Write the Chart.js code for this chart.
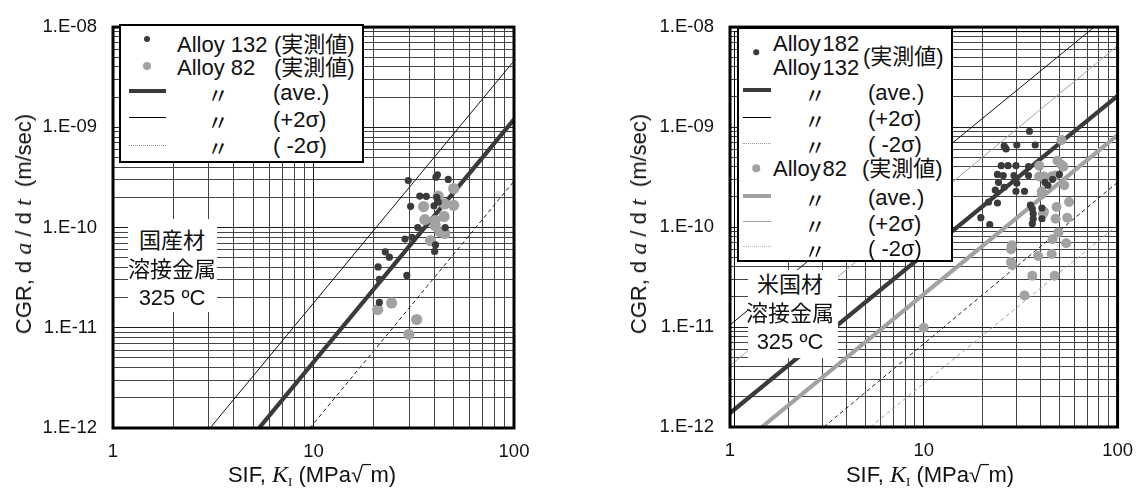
<!DOCTYPE html>
<html>
<head>
<meta charset="utf-8">
<script src="https://cdn.jsdelivr.net/npm/chart.js@4.4.1/dist/chart.umd.min.js"></script>
<style>
  html, body { margin: 0; padding: 0; background: #fff; }
  body { position: relative; width: 1146px; height: 491px; overflow: hidden;
         font-family: "Liberation Sans", Arial, "Noto Sans CJK JP", sans-serif; color: #111; }
  canvas { position: absolute; top: 0; }
  #cJP { left: 0; }
  #cUS { left: 573px; }
  .t { position: absolute; white-space: nowrap; line-height: 0; font-size: 22px; }
  .c { transform: translateX(-50%); }
  .box { position: absolute; background: #fff; border: 2.5px solid #000; box-sizing: border-box; }
  .bg { position: absolute; background: #fff; }
  .dot { position: absolute; border-radius: 50%; transform: translate(-50%, -50%); }
  .smp { position: absolute; }
  .ttl { position: absolute; white-space: nowrap; line-height: 1; }
  .ttl i { font-family: "Liberation Serif", "Times New Roman", serif; font-style: italic; }
  .ttl sub { font-family: "Liberation Serif", "Times New Roman", serif; font-size: 13px; vertical-align: -4px; }
  .yt { font-size: 22px; transform: translate(-50%, -50%) rotate(-90deg); }
  .yt i { font-size: 24px; }
  .xt { font-size: 22px; transform: translate(-50%, -50%); }
  .xt i { font-size: 24px; }
  .ditto { font-family: "Noto Sans CJK JP", sans-serif; }
</style>
</head>
<body>
<canvas id="cJP" width="573" height="491"></canvas>
<canvas id="cUS" width="573" height="491"></canvas>
<div id="overlay"></div>
<script>
// ---------- axes ----------
const xDecades = [1, 10, 100];
const xTickLabels = ['1', '10', '100'];
const yDecades = [1e-12, 1e-11, 1e-10, 1e-9, 1e-8];
const yTickLabels = ['1.E-12', '1.E-11', '1.E-10', '1.E-09', '1.E-08'];

// ---------- left panel: 国産材 溶接金属 325 ºC ----------
// Alloy 132 measured CGR (K in MPa√m, CGR in m/sec)
const jp132K   = [29.7, 40.8, 41.5, 47.0, 33.9, 36.5, 30.5, 41.2, 41.9, 39.9, 33.1,
                  28.6, 31.0, 45.4, 40.6, 40.2, 22.8, 23.9, 21.0, 21.3, 29.2, 21.3];
const jp132CGR = [2.94e-10, 3.18e-10, 3.36e-10, 3.02e-10, 2.06e-10, 2.05e-10, 1.63e-10, 2.0e-10, 1.79e-10, 1.65e-10, 1.0e-10,
                  7.68e-11, 7.98e-11, 1.0e-10, 6.71e-11, 5.78e-11, 5.73e-11, 5.06e-11, 4.05e-11, 3.04e-11, 3.33e-11, 1.79e-11];
// Alloy 82 measured CGR
const jp82K    = [50.0, 41.9, 35.4, 45.1, 50.0, 35.9, 40.4, 40.4, 44.8, 42.7, 45.2, 38.3, 24.5, 20.9, 32.7, 29.9];
const jp82CGR  = [2.45e-10, 2.06e-10, 1.62e-10, 1.72e-10, 1.67e-10, 1.2e-10, 1.17e-10, 1.05e-10, 1.29e-10, 9.08e-11,
                  8.73e-11, 7.41e-11, 1.77e-11, 1.52e-11, 1.21e-11, 8.6e-12];
// curves (ave., +2σ, -2σ), end points
const jpAveK = [5.35, 100],  jpAveCGR = [1e-12, 1.2e-9];
const jpHiK  = [3.05, 100],  jpHiCGR  = [1e-12, 4.6e-9];
const jpLoK  = [9.6, 100],   jpLoCGR  = [1e-12, 2.9e-10];

// ---------- right panel: 米国材 溶接金属 325 ºC ----------
// Alloy 182 / Alloy 132 measured CGR
const us132K   = [35.1, 26.0, 26.6, 30.2, 37.6, 25.1, 27.2, 29.9, 34.7, 24.0, 25.7, 29.2, 34.7, 24.3, 23.4, 26.0, 30.2,
                  29.9, 33.1, 42.2, 43.7, 46.2, 50.1, 21.6, 24.0, 35.5, 36.3, 36.7, 36.7, 36.3, 40.7, 40.7, 19.7, 21.9];
const us132CGR = [9.08e-10, 6.47e-10, 6.04e-10, 6.62e-10, 6.62e-10, 4.11e-10, 4.11e-10, 4.11e-10, 4.02e-10, 3.36e-10,
                  3.28e-10, 3.28e-10, 3.28e-10, 2.8e-10, 2.34e-10, 2.5e-10, 2.74e-10, 2.28e-10, 2.28e-10, 2.8e-10,
                  2.62e-10, 3.0e-10, 3.36e-10, 1.78e-10, 1.74e-10, 1.66e-10, 1.52e-10, 1.36e-10, 1.21e-10, 1.08e-10,
                  1.55e-10, 1.21e-10, 1.24e-10, 1.06e-10];
// Alloy 82 measured CGR
const us82K    = [51.3, 39.4, 49.0, 51.3, 52.5, 39.4, 41.7, 45.7, 47.9, 40.7, 40.7, 53.1, 56.2, 48.4, 41.7, 41.2,
                  47.9, 55.0, 49.5, 46.2, 54.3, 28.5, 28.2, 28.2, 28.5, 38.9, 45.7, 36.3, 47.3, 33.1, 10.0];
const us82CGR  = [7.41e-10, 4.11e-10, 4.61e-10, 4.21e-10, 4.02e-10, 3.21e-10, 3.21e-10, 3.21e-10, 3.28e-10, 2.28e-10,
                  2.13e-10, 2.62e-10, 1.78e-10, 1.59e-10, 1.42e-10, 1.36e-10, 1.21e-10, 1.24e-10, 8.83e-11, 7.54e-11,
                  6.88e-11, 6.58e-11, 6.01e-11, 4.48e-11, 4.18e-11, 5.13e-11, 5.37e-11, 3.26e-11, 3.26e-11, 2.07e-11, 9.83e-12];
// Alloy 182/132 curves
const us132AveK = [1, 100],    us132AveCGR = [1.38e-12, 2.05e-9];
const us132HiK  = [1, 75.7],   us132HiCGR  = [1.05e-11, 1e-8];
const us132LoK  = [3.05, 100], us132LoCGR  = [1e-12, 2.8e-10];
// Alloy 82 curves
const us82AveK  = [1.46, 100], us82AveCGR  = [1e-12, 8.3e-10];
const us82HiK   = [1, 100],    us82HiCGR   = [4.1e-12, 6.5e-9];
const us82LoK   = [5.3, 100],  us82LoCGR   = [1e-12, 1.04e-10];

// ---------- styling ----------
const DARK = '#3a3a3a', GREY = '#a2a2a2';
const FONT = '"Liberation Sans", Arial, sans-serif';

const pts = (xs, ys) => xs.map((x, i) => ({ x, y: ys[i] }));
const isDecade = v => Math.abs(Math.log10(v) - Math.round(Math.log10(v))) < 1e-9;

function logGrid(decades) {
  const out = [];
  decades.forEach((d, i) => {
    if (i === decades.length - 1) { out.push({ value: d, major: true }); return; }
    for (let m = 1; m <= 9; m++) out.push({ value: d * m, major: m === 1 });
  });
  return out;
}
function labeller(decades, labels) {
  return v => {
    const i = decades.findIndex(d => Math.abs(Math.log10(d) - Math.log10(v)) < 1e-9);
    return i >= 0 ? labels[i] : '';
  };
}

const scatter = (data, color, r) => ({ data, backgroundColor: color, borderWidth: 0,
  pointRadius: r, pointHoverRadius: r, showLine: false });
const curve = (data, color, w, dash) => ({ data, borderColor: color, borderWidth: w,
  borderDash: dash || [], pointRadius: 0, showLine: true, fill: false, tension: 0 });

const frame = {
  id: 'frame',
  afterDraw(chart, args, opts) {
    const { ctx, chartArea: a } = chart;
    ctx.save();
    ctx.strokeStyle = '#000';
    ctx.lineWidth = 3;
    ctx.strokeRect(a.left, a.top, a.right - a.left, a.bottom - a.top);
    if (opts.inner) {
      ctx.lineWidth = 1;
      ctx.beginPath();
      ctx.moveTo(a.left + 4.5, a.bottom);
      ctx.lineTo(a.left + 4.5, a.top + 4.5);
      ctx.lineTo(a.right, a.top + 4.5);
      ctx.stroke();
    }
    ctx.restore();
  }
};

function makeChart(id, datasets, box) {
  const gridColor = c => (c.tick && isDecade(c.tick.value)) ? '#1e1e1e' : '#444444';
  return new Chart(document.getElementById(id), {
    type: 'scatter',
    data: { datasets },
    plugins: [frame],
    options: {
      responsive: false, animation: false, devicePixelRatio: 1,
      layout: { padding: { top: box.top, right: box.right, left: 0, bottom: 0 } },
      plugins: { legend: { display: false }, tooltip: { enabled: false }, frame: { inner: box.inner } },
      scales: {
        x: {
          type: 'logarithmic', min: 1, max: 100,
          afterBuildTicks: s => { s.ticks = logGrid(xDecades); },
          afterFit: s => { s.height = box.xH; },
          grid: { color: gridColor, lineWidth: 1, drawTicks: false },
          border: { display: false },
          ticks: { autoSkip: false, maxRotation: 0, padding: 13, color: '#111',
                   font: { family: FONT, size: 18.5 }, callback: labeller(xDecades, xTickLabels) }
        },
        y: {
          type: 'logarithmic', min: 1e-12, max: 1e-8,
          afterBuildTicks: s => { s.ticks = logGrid(yDecades); },
          afterFit: s => { s.width = box.yW; },
          grid: { color: gridColor, lineWidth: 1, drawTicks: false },
          border: { display: false },
          ticks: { autoSkip: false, padding: 16, color: '#111',
                   font: { family: FONT, size: 18.5 }, callback: labeller(yDecades, yTickLabels) }
        }
      }
    }
  });
}

makeChart('cJP', [
  scatter(pts(jp132K, jp132CGR), DARK, 3.6),
  scatter(pts(jp82K, jp82CGR), GREY, 5.6),
  curve(pts(jpAveK, jpAveCGR), DARK, 4.2),
  curve(pts(jpHiK, jpHiCGR), '#111', 1),
  curve(pts(jpLoK, jpLoCGR), '#222', 1, [4, 3])
], { top: 20, right: 59, xH: 63, yW: 113, inner: false });

makeChart('cUS', [
  scatter(pts(us132K, us132CGR), DARK, 3.6),
  scatter(pts(us82K, us82CGR), GREY, 5),
  curve(pts(us132AveK, us132AveCGR), DARK, 4.2),
  curve(pts(us132HiK, us132HiCGR), '#111', 1),
  curve(pts(us132LoK, us132LoCGR), '#222', 1, [4, 3]),
  curve(pts(us82AveK, us82AveCGR), GREY, 4.2),
  curve(pts(us82HiK, us82HiCGR), GREY, 1),
  curve(pts(us82LoK, us82LoCGR), GREY, 1, [4, 3])
], { top: 20, right: 16, xH: 64, yW: 157, inner: true });

// ---------- legends, notes and axis titles ----------
const ov = document.getElementById('overlay');
function el(cls, style, html) {
  const d = document.createElement('div');
  d.className = cls;
  Object.assign(d.style, style);
  if (html !== undefined) d.innerHTML = html;
  ov.appendChild(d);
  return d;
}
const txt = (s, x, y, center) => el('t' + (center ? ' c' : ''), { left: x + 'px', top: y + 'px' }, s);
const ditto = (x, y) => el('t c ditto', { left: x + 'px', top: y + 'px' }, '〃');
const dot = (x, y, d, c) => el('dot', { left: x + 'px', top: y + 'px', width: d + 'px', height: d + 'px', background: c });
const sample = (x1, x2, y, w, c, style) => el('smp', { left: x1 + 'px', top: (y - w / 2) + 'px', width: (x2 - x1) + 'px',
  height: '0px', borderTop: w + 'px ' + (style || 'solid') + ' ' + c });

// left legend
el('box', { left: '119px', top: '24px', width: '245px', height: '139px' });
dot(147, 39, 6, DARK);
dot(147, 66, 8, GREY);
sample(129, 166, 91, 4, DARK);
sample(129, 166, 117, 1, '#000');
sample(129, 166, 145, 1, '#888', 'dotted');
txt('Alloy 132', 177, 44.5); txt('(実測値)', 274, 44.5);
txt('Alloy 82', 177, 68);   txt('(実測値)', 274, 68);
ditto(218, 93);  txt('(ave.)', 273, 93);
ditto(218, 119.5); txt('(+2σ)', 273, 119.5);
ditto(218, 146); txt('( -2σ)', 273, 146);

// right legend
el('box', { left: '737px', top: '27px', width: '216px', height: '235px' });
dot(756, 52, 5.5, DARK);
txt('Alloy\u200A182', 773, 43.5); txt('Alloy\u200A132', 773, 67.5); txt('(実測値)', 863, 57);
sample(743, 771, 90, 4, DARK);
sample(743, 771, 117, 1, '#000');
sample(743, 771, 143, 1, '#999', 'dotted');
ditto(815, 93);  txt('(ave.)', 868, 93);
ditto(815, 119); txt('(+2σ)', 868, 119);
ditto(815, 145); txt('( -2σ)', 868, 145);
dot(756, 168, 7.5, GREY);
txt('Alloy\u200A82', 773, 169); txt('(実測値)', 862, 169);
sample(743, 771, 196, 4, GREY);
sample(743, 771, 221, 1, GREY);
sample(743, 771, 246, 1, '#bbb', 'dotted');
ditto(815, 198); txt('(ave.)', 868, 198);
ditto(815, 224); txt('(+2σ)', 868, 224);
ditto(815, 249); txt('( -2σ)', 868, 249);

// material / temperature notes
el('bg', { left: '128px', top: '219px', width: '89px', height: '93px' });
txt('国産材', 172, 241, true); txt('溶接金属', 172, 270, true); txt('325 ºC', 172, 298, true);
el('bg', { left: '748px', top: '270px', width: '90px', height: '88px' });
txt('米国材', 790, 285, true); txt('溶接金属', 790, 314, true); txt('325 ºC', 790, 342, true);

// axis titles
const yTitle = 'CGR, d <i>a</i> / d <i>t</i>&nbsp;&nbsp;(m/sec)';
const xTitle = 'SIF, <i>K</i><sub>I</sub> (MPa√‾m)';
el('ttl yt', { left: '23px', top: '224px' }, yTitle);
el('ttl yt', { left: '638px', top: '224px' }, yTitle);
el('ttl xt', { left: '312px', top: '475px' }, xTitle);
el('ttl xt', { left: '930px', top: '475px' }, xTitle);
</script>
</body>
</html>
